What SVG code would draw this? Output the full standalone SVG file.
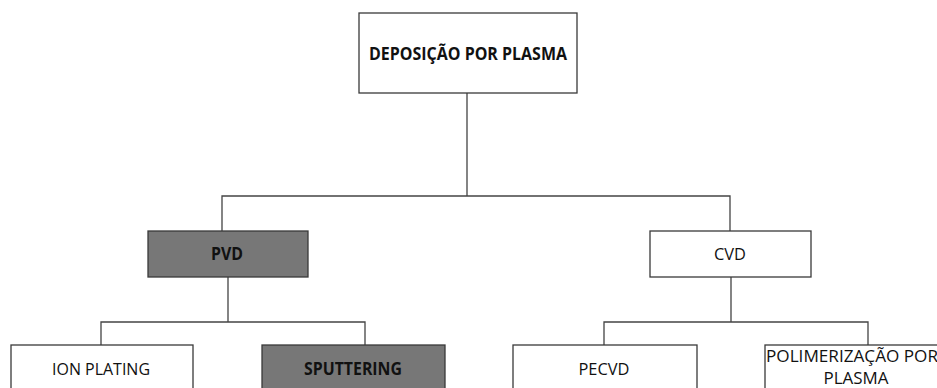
<svg xmlns="http://www.w3.org/2000/svg" width="937" height="388" viewBox="0 0 937 388">
<style>
.box{stroke:#3a3a3a;stroke-width:1.3}
.w{fill:#fff}
.g{fill:#777}
.t{font-family:"Open Sans","Liberation Sans",sans-serif;font-size:17px;fill:#111;text-anchor:middle;dominant-baseline:central}
.s{font-size:16px}
.b{font-weight:bold}
.c{fill:none;stroke:#444;stroke-width:1.3}
</style>
<rect width="937" height="388" fill="#fff"/>
<g id="connectors">
<path class="c" d="M467 93V196M222 231V196H730V231"/>
<path class="c" d="M228 277V322M101 345V322H365V345"/>
<path class="c" d="M731 277V322M604 345V322H868V345"/>
</g>
<g id="n-root"><rect class="box w" x="359" y="13" width="218" height="80"/><text class="t b" x="468" y="53" textLength="198" lengthAdjust="spacingAndGlyphs">DEPOSIÇÃO POR PLASMA</text></g>
<g id="n-pvd"><rect class="box g" x="148" y="231" width="160" height="46"/><text class="t b" x="227" y="253" textLength="32" lengthAdjust="spacingAndGlyphs">PVD</text></g>
<g id="n-cvd"><rect class="box w" x="650" y="231" width="161" height="46"/><text class="t" x="730" y="253" textLength="32" lengthAdjust="spacingAndGlyphs">CVD</text></g>
<g id="n-ion"><rect class="box w" x="11" y="345" width="182" height="60"/><text class="t" x="101" y="368" textLength="98" lengthAdjust="spacingAndGlyphs">ION PLATING</text></g>
<g id="n-sput"><rect class="box g" x="262" y="345" width="183" height="60"/><text class="t b" x="353" y="368" textLength="98" lengthAdjust="spacingAndGlyphs">SPUTTERING</text></g>
<g id="n-pecvd"><rect class="box w" x="513" y="345" width="184" height="60"/><text class="t" x="604" y="368" textLength="51" lengthAdjust="spacingAndGlyphs">PECVD</text></g>
<g id="n-poli"><rect class="box w" x="765" y="345" width="183" height="60"/><text class="t s" x="852" y="356" textLength="172" lengthAdjust="spacingAndGlyphs">POLIMERIZAÇÃO POR</text><text class="t s" x="856" y="378" textLength="65" lengthAdjust="spacingAndGlyphs">PLASMA</text></g>
</svg>
